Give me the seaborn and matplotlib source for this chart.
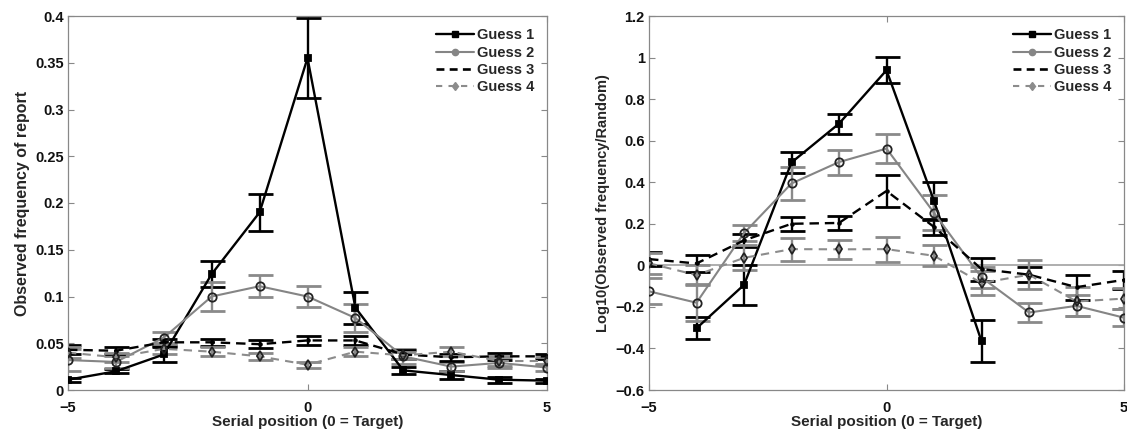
import numpy as np
import pandas as pd
import matplotlib
matplotlib.use("Agg")
import matplotlib.pyplot as plt
import seaborn as sns
from matplotlib.lines import Line2D

positions = [-5, -4, -3, -2, -1, 0, 1, 2, 3, 4, 5]
series_names = ["Guess 1", "Guess 2", "Guess 3", "Guess 4"]

# Left panel: observed frequency of report
freq_g1 = [0.011, 0.020, 0.038, 0.124, 0.190, 0.355, 0.088, 0.021, 0.016, 0.011, 0.010]
freq_g1_err = [0.002, 0.002, 0.008, 0.014, 0.020, 0.043, 0.017, 0.004, 0.004, 0.003, 0.002]
freq_g2 = [0.032, 0.030, 0.056, 0.100, 0.111, 0.100, 0.077, 0.036, 0.025, 0.029, 0.024]
freq_g2_err = [0.012, 0.006, 0.006, 0.015, 0.012, 0.011, 0.015, 0.008, 0.005, 0.006, 0.004]
freq_g3 = [0.043, 0.042, 0.051, 0.051, 0.049, 0.053, 0.053, 0.038, 0.035, 0.036, 0.036]
freq_g3_err = [0.005, 0.004, 0.004, 0.004, 0.004, 0.005, 0.005, 0.005, 0.004, 0.004, 0.003]
freq_g4 = [0.040, 0.035, 0.044, 0.041, 0.036, 0.027, 0.041, 0.037, 0.041, 0.031, 0.031]
freq_g4_err = [0.006, 0.005, 0.005, 0.005, 0.004, 0.003, 0.005, 0.004, 0.005, 0.005, 0.004]

# Right panel: log10(observed frequency / random)
log_g1 = [np.nan, -0.303, -0.094, 0.495, 0.682, 0.939, 0.31, -0.365, np.nan, np.nan, np.nan]
log_g1_err = [np.nan, 0.052, 0.095, 0.052, 0.048, 0.062, 0.09, 0.10, np.nan, np.nan, np.nan]
log_g2 = [-0.125, -0.18, 0.155, 0.394, 0.497, 0.562, 0.253, -0.058, -0.227, -0.195, -0.252]
log_g2_err = [0.062, 0.09, 0.04, 0.08, 0.06, 0.07, 0.085, 0.05, 0.045, 0.05, 0.04]
log_g3 = [0.03, 0.009, 0.12, 0.20, 0.204, 0.358, 0.185, -0.018, -0.045, -0.105, -0.07]
log_g3_err = [0.035, 0.04, 0.03, 0.035, 0.035, 0.075, 0.04, 0.055, 0.035, 0.06, 0.045]
log_g4 = [0.01, -0.047, 0.036, 0.078, 0.077, 0.078, 0.046, -0.085, -0.045, -0.174, -0.16]
log_g4_err = [0.05, 0.05, 0.06, 0.055, 0.045, 0.06, 0.05, 0.06, 0.07, 0.07, 0.05]

left_yticks = [0, 0.05, 0.1, 0.15, 0.2, 0.25, 0.3, 0.35, 0.4]
left_yticklabels = ["0", "0.05", "0.1", "0.15", "0.2", "0.25", "0.3", "0.35", "0.4"]
right_yticks = [-0.6, -0.4, -0.2, 0, 0.2, 0.4, 0.6, 0.8, 1.0, 1.2]
right_yticklabels = ["\u22120.6", "\u22120.4", "\u22120.2", "0", "0.2", "0.4", "0.6", "0.8", "1", "1.2"]
xticks = [-5, 0, 5]
xticklabels = ["\u22125", "0", "5"]

sns.set_theme(style="white")
plt.rcParams['font.family'] = ['Liberation Sans', 'DejaVu Sans']
plt.rcParams['font.weight'] = 'bold'

styles = {
    "Guess 1": dict(color="#000000", ls="-", marker="s", mfc="#000000", mec="#000000", ms=5, lw=1.7),
    "Guess 2": dict(color="#858585", ls="-", marker="o", mfc="none", mec="#222222", ms=6, lw=1.5),
    "Guess 3": dict(color="#000000", ls=(0, (4, 2.5)), marker=".", mfc="#000000", mec="#000000", ms=4, lw=1.7),
    "Guess 4": dict(color="#8c8c8c", ls=(0, (4, 3)), marker="d", mfc="none", mec="#222222", ms=5, lw=1.5),
}
err_colors = {"Guess 1": "#000000", "Guess 2": "#8a8a8a", "Guess 3": "#000000", "Guess 4": "#8a8a8a"}

fig = plt.figure(figsize=(11.27, 4.29), dpi=100)
axL = fig.add_axes([68/1127, 39/429, 479/1127, 374/429])
axR = fig.add_axes([649/1127, 39/429, 475/1127, 374/429])


def draw(ax, vals, errs):
    for name, v, e in zip(series_names, vals, errs):
        df = pd.DataFrame({"x": positions, "y": v, "e": e}).dropna()
        st = styles[name]
        ax.errorbar(df["x"], df["y"], yerr=df["e"], fmt="none", ecolor=err_colors[name],
                    elinewidth=1.7, capsize=9, capthick=2.0, zorder=2)
        sns.lineplot(data=df, x="x", y="y", ax=ax, color=st["color"], linestyle=st["ls"],
                     linewidth=st["lw"], marker=st["marker"], markersize=st["ms"],
                     markerfacecolor=st["mfc"], markeredgecolor=st["mec"], markeredgewidth=1.3,
                     label=name, zorder=3, legend=False)


draw(axL, [freq_g1, freq_g2, freq_g3, freq_g4], [freq_g1_err, freq_g2_err, freq_g3_err, freq_g4_err])
draw(axR, [log_g1, log_g2, log_g3, log_g4], [log_g1_err, log_g2_err, log_g3_err, log_g4_err])
axR.axhline(0, color="#a8a8a8", lw=1.3, zorder=1)

handles = [
    Line2D([], [], color="#000000", ls="-", lw=1.7, marker="s", ms=4, mfc="#000000", mec="#000000"),
    Line2D([], [], color="#858585", ls="-", lw=1.5, marker="o", ms=4.5, mfc="#858585", mec="#858585"),
    Line2D([], [], color="#000000", ls=(0, (3, 2)), lw=1.9),
    Line2D([], [], color="#8c8c8c", ls=(0, (3, 3)), lw=1.5, marker="d", ms=4.5, mfc="#8c8c8c", mec="#8c8c8c"),
]

for ax, yl, yt, ytl, ylab, lsize in [
    (axL, (0, 0.4), left_yticks, left_yticklabels, "Observed frequency of report", 11.5),
    (axR, (-0.6, 1.2), right_yticks, right_yticklabels, "Log10(Observed frequency/Random)", 10.5),
]:
    ax.set_xlim(-5, 5)
    ax.set_ylim(*yl)
    ax.set_xticks(xticks)
    ax.set_xticklabels(xticklabels, fontsize=10.5, fontweight="bold")
    ax.set_yticks(yt)
    ax.set_yticklabels(ytl, fontsize=10.5, fontweight="bold")
    ax.set_xlabel("Serial position (0 = Target)", fontsize=11, fontweight="bold", labelpad=0)
    ax.set_ylabel(ylab, fontsize=lsize, fontweight="bold", labelpad=4)
    ax.tick_params(direction="in", length=4, width=0.8, color="#888888", top=True, right=True,
                   bottom=True, left=True, labelcolor="#111111")
    ax.tick_params(axis="x", pad=8)
    ax.tick_params(axis="y", pad=3)
    for s in ax.spines.values():
        s.set_color("#888888")
        s.set_linewidth(0.9)
    ax.set_facecolor("white")
    ax.legend(handles, series_names, loc="upper right", frameon=False,
              handlelength=2.6, handletextpad=0.2, labelspacing=0.22,
              borderaxespad=0.45, prop={"weight": "bold", "size": 10.5})

fig.savefig("out.png", dpi=100, facecolor="white")
